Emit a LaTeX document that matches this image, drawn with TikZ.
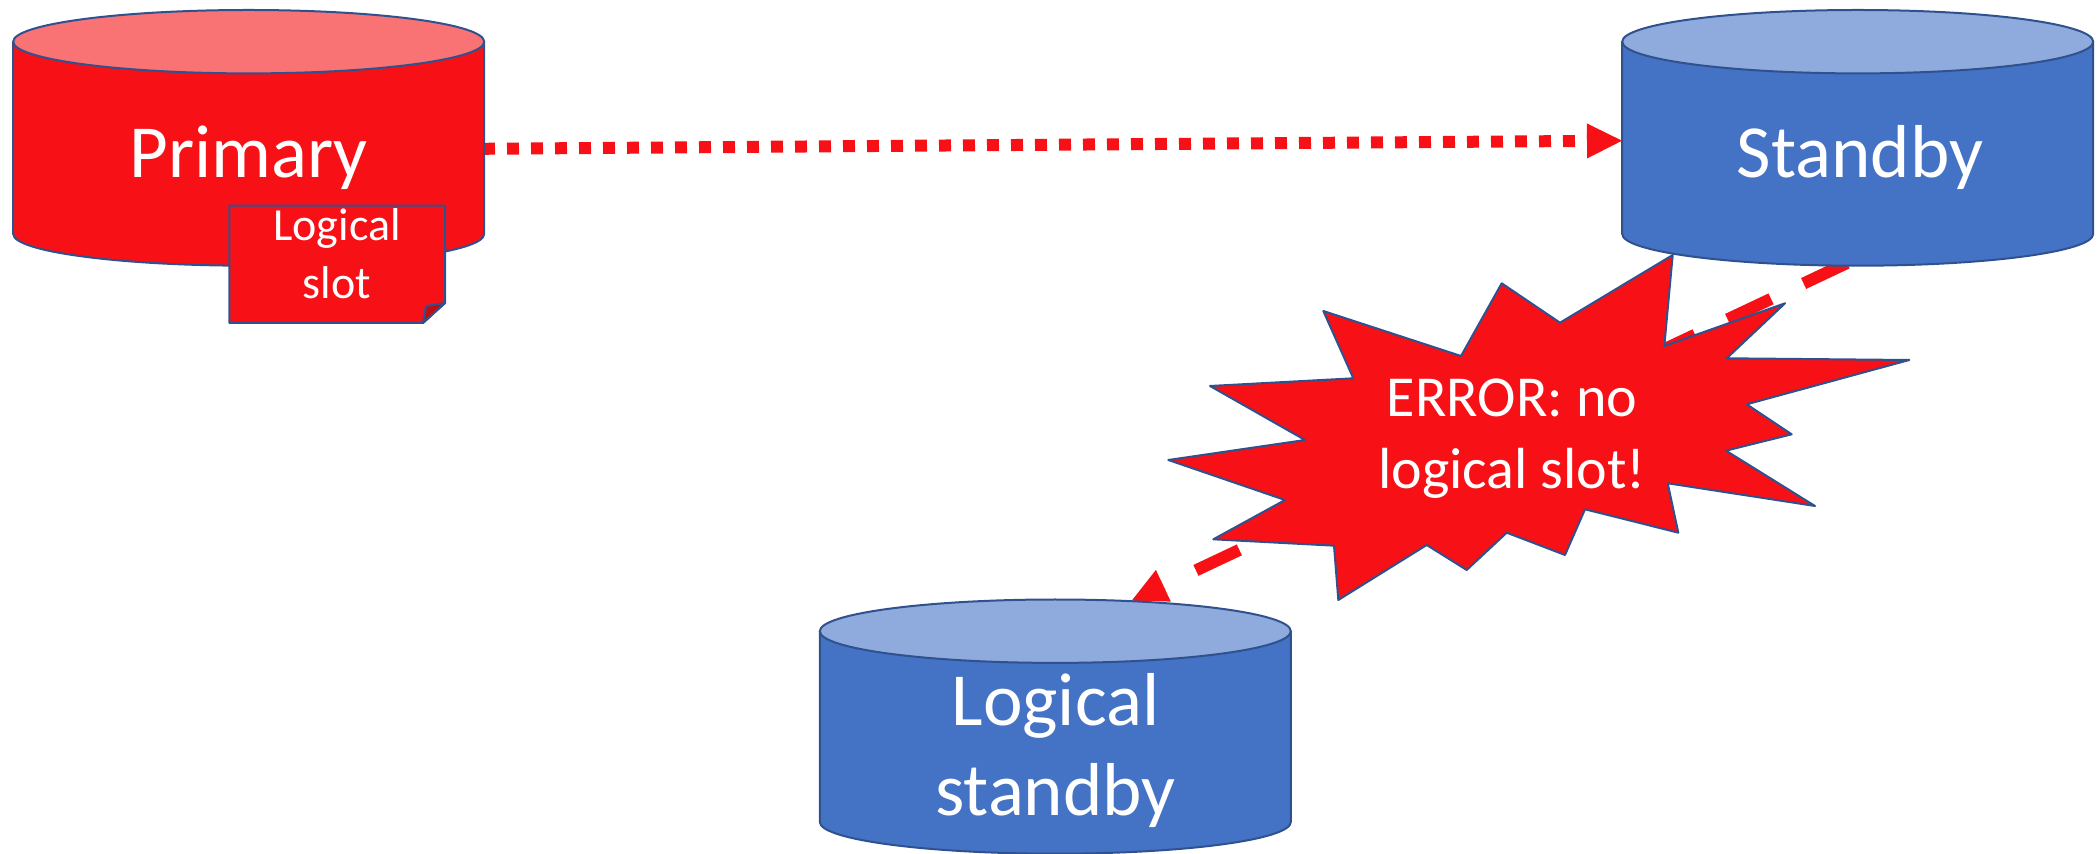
\documentclass[tikz,border=0pt]{standalone}
\usepackage{fontspec}
\setmainfont{Carlito}
\usetikzlibrary{arrows.meta}
\definecolor{rd}{RGB}{247,17,22}
\definecolor{rdtop}{RGB}{249,114,116}
\definecolor{rddark}{RGB}{190,12,18}
\definecolor{bl}{RGB}{68,114,196}
\definecolor{bltop}{RGB}{143,170,220}
\definecolor{ol}{RGB}{47,82,143}
\newcommand\drawcan[5]{%
  \path[outl,fill=#4] (#1-235.5,#2) -- (#1-235.5,#3)
    .. controls (#1-235.5,#3+17.51) and (#1-130.07,#3+31.7) .. (#1,#3+31.7)
    .. controls (#1+130.07,#3+31.7) and (#1+235.5,#3+17.51) .. (#1+235.5,#3)
    -- (#1+235.5,#2) -- cycle;
  \path[outl,fill=#5] (#1,#2) ellipse [x radius=117.75pt, y radius=15.85pt];
}
\begin{document}
\begin{tikzpicture}[x=0.5pt,y=-0.5pt,
  outl/.style={draw=ol,line width=1pt,line join=round},
  lbl/.style={text=white,inner sep=0pt,anchor=base,font=\fontsize{37.5}{45}\selectfont},
  dotline/.style={draw=rd,line width=6pt,dash pattern=on 6pt off 6pt,
    -{Triangle[length=17.5pt,width=17.5pt,line width=0pt]}},
  dashline/.style={draw=rd,line width=6pt,dash pattern=on 24pt off 18pt,
    -{Triangle[length=17.5pt,width=17.5pt,line width=0pt]}}]
\useasboundingbox (0,0) rectangle (2097,854);
% connector end points
\coordinate (p-out) at (483,148.8);
\coordinate (s-in) at (1622,140.7);
\coordinate (s-out) at (1847,263);
\coordinate (l-in) at (1131.7,600.7);
% connectors
\draw[dotline] (p-out) -- (s-in);
\draw[dashline] (s-out) -- (l-in);
% databases
\drawcan{248.7}{41.7}{234}{rd}{rdtop}
\drawcan{1857.7}{41.7}{234}{bl}{bltop}
\drawcan{1055.3}{631.2}{822}{bl}{bltop}
% explosion
\path[outl,fill=rd] (1672.7,255) -- (1664.3,346) -- (1785,303.3) -- (1726.7,358.3)
  -- (1909.3,360) -- (1746.7,404.3) -- (1791.7,434.3) -- (1726,450.7)
  -- (1815,506) -- (1667.7,483.3) -- (1678.3,532.7) -- (1585,509.3)
  -- (1565,555) -- (1506.7,532.7) -- (1466.7,570) -- (1426.7,545)
  -- (1338.3,600) -- (1334,545.7) -- (1213.3,539.3) -- (1285,500)
  -- (1168.3,460) -- (1305,440) -- (1210,386) -- (1353.3,378.3)
  -- (1323.3,311) -- (1461,356) -- (1501.7,283.3) -- (1560,322.7) -- cycle;
% logical slot note
\path[outl,fill=rd] (229.3,205.7) -- (445,205.7) -- (445,303) -- (423,323) -- (229.3,323) -- cycle;
\path[outl,fill=rddark] (423,323) -- (426,306) -- (445,303) -- cycle;
% labels
\node[lbl] (primary) at (248.5,178) {Primary};
\node[lbl] (standby) at (1860,178) {Standby};
\node[lbl] (lstandby) at (1055.5,725) {\begin{tabular}[t]{@{}c@{}}Logical\\standby\end{tabular}};
\node[lbl,font=\fontsize{29}{35.85}\selectfont] (err) at (1512,416.7) {\begin{tabular}[t]{@{}c@{}}ERROR: no\\logical slot!\end{tabular}};
\node[lbl,font=\fontsize{23}{28.8}\selectfont] (slot) at (337,240.7) {\begin{tabular}[t]{@{}c@{}}Logical\\slot\end{tabular}};
\end{tikzpicture}
\end{document}
